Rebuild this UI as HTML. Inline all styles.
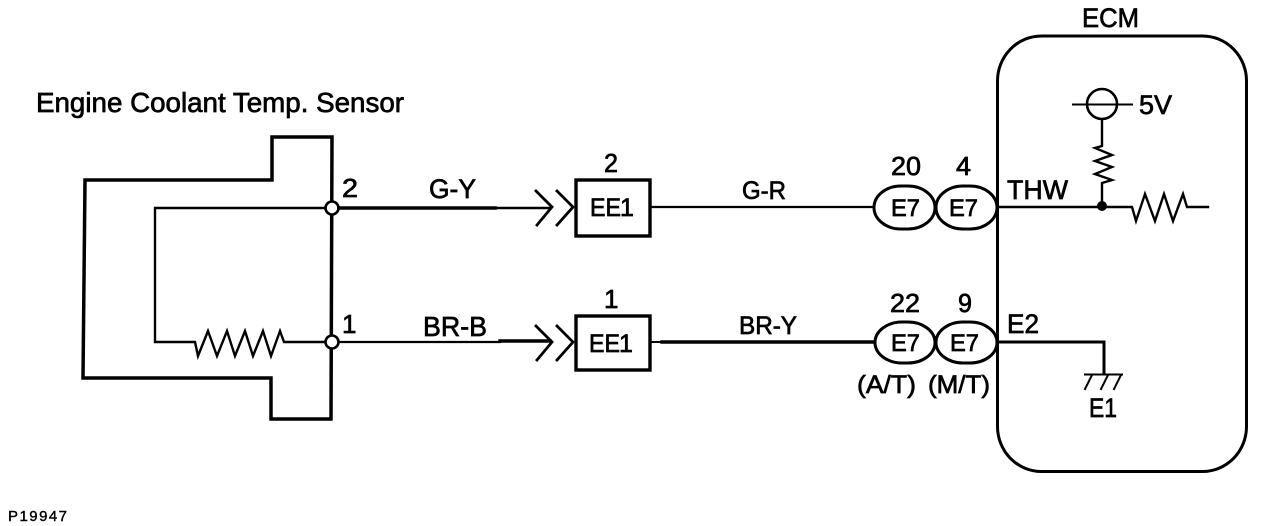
<!DOCTYPE html>
<html>
<head>
<meta charset="utf-8">
<style>
html,body{margin:0;padding:0;background:#fff;width:1264px;height:526px;overflow:hidden}
svg{display:block}
text{font-family:"Liberation Sans",sans-serif;fill:#000;stroke:#000;stroke-width:.7px}
.l{fill:none;stroke:#000;stroke-linejoin:miter;stroke-linecap:square}
</style>
</head>
<body>
<svg width="1264" height="526" viewBox="0 0 1264 526" xmlns="http://www.w3.org/2000/svg">
<rect width="1264" height="526" fill="#fff"/>

<!-- Sensor body -->
<path class="l" stroke-width="3.5" d="M332 137H272V180H85L83 378H271V419H331L332 137"/>
<!-- Inner circuit -->
<path class="l" stroke-width="2.4" d="M326 208H155V342H195L198 356L208 331L217 356L227 331L235 356L245 331L253 356L263 331L271 356L280 331L284 342H326"/>

<!-- Connection circles -->
<circle cx="332" cy="208" r="6.500" fill="#fff" stroke="#000" stroke-width="2.6"/>
<circle cx="332" cy="342" r="6.500" fill="#fff" stroke="#000" stroke-width="2.6"/>

<!-- Wires left -->
<path class="l" stroke-width="3.6" d="M339 208H495"/>
<path class="l" stroke-width="2.4" d="M495 208H550"/>
<path class="l" stroke-width="2.2" d="M339 342H500"/>
<path class="l" stroke-width="3.4" d="M500 341H550"/>

<!-- Chevrons -->
<path class="l" stroke-width="2.8" d="M536 191L552 207L537 225M557 191L573 207L557 225"/>
<path class="l" stroke-width="2.8" d="M536 326L552 342L537 360M557 326L573 342L557 360"/>

<!-- EE1 boxes -->
<rect x="576" y="180" width="74" height="56" fill="#fff" stroke="#000" stroke-width="3.4"/>
<rect x="576" y="316" width="74" height="54" fill="#fff" stroke="#000" stroke-width="3.4"/>

<!-- Middle wires -->
<path class="l" stroke-width="2.2" d="M651 207H873"/>
<path class="l" stroke-width="2" d="M651 342H662"/>
<path class="l" stroke-width="3.4" d="M662 342H875"/>

<!-- E7 ovals -->
<rect x="874" y="186" width="61" height="43" rx="27" ry="21.500" fill="#fff" stroke="#000" stroke-width="3"/>
<rect x="936" y="186" width="61" height="43" rx="27" ry="21.500" fill="#fff" stroke="#000" stroke-width="3"/>
<rect x="875" y="322" width="60" height="41" rx="27" ry="20.500" fill="#fff" stroke="#000" stroke-width="3"/>
<rect x="936" y="322" width="61" height="41" rx="27" ry="20.500" fill="#fff" stroke="#000" stroke-width="3"/>

<!-- ECM -->
<rect x="997.500" y="36" width="249" height="435.500" rx="44" ry="45" fill="none" stroke="#000" stroke-width="3"/>

<!-- THW circuit -->
<path class="l" stroke-width="2.4" d="M997 207H1132L1136 221L1145 194L1155 221L1164 194L1173 221L1183 194L1187 207H1208"/>
<path class="l" stroke-width="2.4" d="M1102 119V146L1095 148L1112 155L1095 161L1112 167L1095 174L1112 180L1102 183V206"/>
<circle cx="1102" cy="206" r="5" fill="#000"/>

<!-- 5V source -->
<circle cx="1102" cy="104" r="15" fill="#fff" stroke="#000" stroke-width="2.600"/>
<path class="l" stroke-width="2" d="M1073 104.500H1132"/>

<!-- E2 circuit -->
<path class="l" stroke-width="3" d="M998 342H1104V374"/>
<path class="l" stroke-width="2" d="M1085 374.500H1122M1092 375L1085 389M1108 375L1101 389M1121 375L1114 389"/>

<!-- Labels -->
<text x="36" y="112" font-size="27.500" textLength="368" lengthAdjust="spacingAndGlyphs">Engine Coolant Temp. Sensor</text>
<text x="342" y="197" font-size="26" textLength="16" lengthAdjust="spacingAndGlyphs">2</text>
<text x="342" y="333" font-size="26">1</text>
<text x="429" y="198" font-size="27" textLength="47" lengthAdjust="spacingAndGlyphs">G-Y</text>
<text x="423" y="336" font-size="28" textLength="64" lengthAdjust="spacingAndGlyphs">BR-B</text>
<text x="604" y="172" font-size="26" textLength="14" lengthAdjust="spacingAndGlyphs">2</text>
<text x="604" y="308" font-size="26">1</text>
<text x="590" y="216" font-size="25" textLength="31" lengthAdjust="spacingAndGlyphs">EE</text>
<text x="620" y="216" font-size="25">1</text>
<text x="589" y="352" font-size="25" textLength="31" lengthAdjust="spacingAndGlyphs">EE</text>
<text x="619" y="352" font-size="25">1</text>
<text x="742" y="199" font-size="25" textLength="44" lengthAdjust="spacingAndGlyphs">G-R</text>
<text x="739" y="334" font-size="25" textLength="58" lengthAdjust="spacingAndGlyphs">BR-Y</text>
<text x="891" y="175" font-size="26" textLength="30" lengthAdjust="spacingAndGlyphs">20</text>
<text x="956" y="175" font-size="26" textLength="15" lengthAdjust="spacingAndGlyphs">4</text>
<text x="891" y="216" font-size="24" textLength="29" lengthAdjust="spacingAndGlyphs">E7</text>
<text x="949" y="216" font-size="24" textLength="29" lengthAdjust="spacingAndGlyphs">E7</text>
<text x="890" y="312" font-size="26" textLength="30" lengthAdjust="spacingAndGlyphs">22</text>
<text x="958" y="312" font-size="26" textLength="14" lengthAdjust="spacingAndGlyphs">9</text>
<text x="891" y="351" font-size="24" textLength="29" lengthAdjust="spacingAndGlyphs">E7</text>
<text x="950" y="351" font-size="24" textLength="29" lengthAdjust="spacingAndGlyphs">E7</text>
<text x="857" y="393" font-size="25" textLength="59" lengthAdjust="spacingAndGlyphs">(A/T)</text>
<text x="928" y="393" font-size="25" textLength="62" lengthAdjust="spacingAndGlyphs">(M/T)</text>
<text x="1007" y="199" font-size="27" textLength="61" lengthAdjust="spacingAndGlyphs">THW</text>
<text x="1007" y="333" font-size="27" textLength="32" lengthAdjust="spacingAndGlyphs">E2</text>
<text x="1089" y="417" font-size="27" textLength="28" lengthAdjust="spacingAndGlyphs">E1</text>
<text x="1082" y="27" font-size="27" textLength="57" lengthAdjust="spacingAndGlyphs">ECM</text>
<text x="1139" y="114" font-size="27" textLength="33" lengthAdjust="spacingAndGlyphs">5V</text>
<text x="8" y="521" font-size="15" textLength="59" lengthAdjust="spacing" style="stroke-width:.4px">P19947</text>
</svg>
</body>
</html>
